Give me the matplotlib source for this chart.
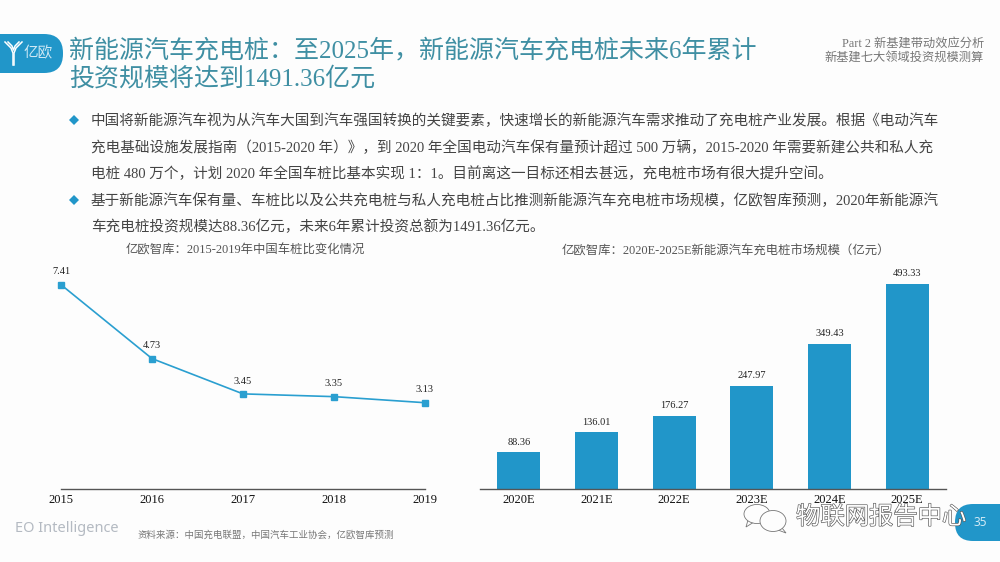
import matplotlib
matplotlib.use('Agg')
import matplotlib.pyplot as plt
import matplotlib.patheffects as pe
from matplotlib.patches import FancyBboxPatch, Ellipse, Polygon

# data
years = ['2015', '2016', '2017', '2018', '2019']
ratio = [7.41, 4.73, 3.45, 3.35, 3.13]
ratio_labels = ['7.41', '4.73', '3.45', '3.35', '3.13']

bar_years = ['2020E', '2021E', '2022E', '2023E', '2024E', '2025E']
market = [88.36, 136.01, 176.27, 247.97, 349.43, 493.33]
market_labels = ['88.36', '136.01', '176.27', '247.97', '349.43', '493.33']

title_lines = ['新能源汽车充电桩：至2025年，新能源汽车充电桩未来6年累计',
               '投资规模将达到1491.36亿元']
body_lines = ['中国将新能源汽车视为从汽车大国到汽车强国转换的关键要素，快速增长的新能源汽车需求推动了充电桩产业发展。根据《电动汽车',
              '充电基础设施发展指南（2015-2020 年）》，到 2020 年全国电动汽车保有量预计超过 500 万辆，2015-2020 年需要新建公共和私人充',
              '电桩 480 万个，计划 2020 年全国车桩比基本实现 1：1。目前离这一目标还相去甚远，充电桩市场有很大提升空间。',
              '基于新能源汽车保有量、车桩比以及公共充电桩与私人充电桩占比推测新能源汽车充电桩市场规模，亿欧智库预测，2020年新能源汽',
              '车充电桩投资规模达88.36亿元，未来6年累计投资总额为1491.36亿元。']

FONT = ['Liberation Serif', 'Noto Sans CJK SC']
SANS = ['Noto Sans', 'Noto Sans CJK SC']
BLUE = '#2196c9'
TEAL = '#3f8fa3'

W, H = 1000, 562
fig = plt.figure(figsize=(W / 100, H / 100), dpi=100, facecolor='#fdfdfd')


def axes_px(x0, y0, x1, y1):
    # y0 is the top edge, y counted from top of the picture
    return fig.add_axes([x0 / W, 1 - y1 / H, (x1 - x0) / W, (y1 - y0) / H])


# page furniture on a full size layer
bg = fig.add_axes([0, 0, 1, 1])
bg.set_xlim(0, W)
bg.set_ylim(H, 0)
bg.axis('off')

bg.add_patch(FancyBboxPatch((-30, 34), 93, 39, boxstyle='round,pad=0,rounding_size=19',
                            fc=BLUE, ec='none'))
# little Y of the logo
bg.plot([5, 11, 13, 13], [42, 48, 53, 65], color='white', lw=1.1)
bg.plot([22, 16, 14, 14], [42, 48, 53, 65], color='white', lw=1.1)
bg.plot([8, 12, 13.5, 15, 19], [42, 46, 50, 46, 42], color='white', lw=1.1)
bg.text(38, 54, '亿欧', color='#cfe9f5', fontsize=10.5, family=SANS, ha='center', va='center')

for i, line in enumerate(title_lines):
    bg.text(69, 50 + 29 * i, line, color=TEAL, fontsize=18, family=FONT, ha='left', va='center')

bg.text(984, 44, 'Part 2 新基建带动效应分析', color='#777777', fontsize=8.8, family=FONT,
        ha='right', va='center')
bg.text(984, 59, '新基建七大领域投资规模测算', color='#777777', fontsize=8.8, family=FONT,
        ha='right', va='center')

body_y = [121, 148, 174, 201, 227]
for y, line in zip(body_y, body_lines):
    bg.text(91, y, line, color='#444444', fontsize=10.5, family=FONT, ha='left', va='center')
for y in [120, 200]:
    bg.add_patch(Polygon([(69, y), (74, y - 5), (79, y), (74, y + 5)], fc=BLUE, ec='none'))

bg.text(126, 251, '亿欧智库：2015-2019年中国车桩比变化情况', color='#555555', fontsize=8.9,
        family=FONT, ha='left', va='center')
bg.text(562, 251, '亿欧智库：2020E-2025E新能源汽车充电桩市场规模（亿元）', color='#555555',
        fontsize=8.9, family=FONT, ha='left', va='center')

bg.text(15, 529, 'EO Intelligence', color='#b4bac2', fontsize=10.5, family=SANS, ha='left', va='center')
bg.text(137, 535, '资料来源：中国充电联盟，中国汽车工业协会，亿欧智库预测', color='#777777', fontsize=6.8,
        family=SANS, style='italic', ha='left', va='center')

bg.add_patch(FancyBboxPatch((955, 504), 90, 37, boxstyle='round,pad=0,rounding_size=18',
                            fc=BLUE, ec='none'))
bg.text(980, 522, '35', color='#cfe9f5', fontsize=8.5, family=SANS, ha='center', va='center')

# line chart
ax1 = axes_px(61, 254, 425, 489)
ax1.plot(years, ratio, color='#2a9fd0', lw=1.2, marker='s', ms=5, clip_on=False)
ax1.set_xlim(0, 4)
ax1.set_ylim(0, 235 / 27.57)

# bar chart
ax2 = axes_px(480, 254, 946, 489)
ax2.bar(bar_years, market, width=0.55, color=BLUE)
ax2.set_xlim(-0.5, 5.5)
ax2.set_ylim(0, 235 / 0.4155)

for ax in (ax1, ax2):
    ax.patch.set_alpha(0)
    for side in ['top', 'left', 'right']:
        ax.spines[side].set_visible(False)
    ax.spines['bottom'].set_color('#555555')
    ax.spines['bottom'].set_linewidth(1)
    ax.set_yticks([])
    ax.tick_params(axis='x', length=0, pad=3.5, labelsize=9, labelcolor='#111111')
    for t in ax.get_xticklabels():
        t.set_family(FONT)

for i, lab in enumerate(ratio_labels):
    ax1.annotate(lab, (i, ratio[i]), xytext=(0, 6), textcoords='offset points', ha='center',
                 va='bottom', fontsize=7.5, family=FONT, color='#222222', annotation_clip=False)
for i, lab in enumerate(market_labels):
    ax2.annotate(lab, (i, market[i]), xytext=(0, 4), textcoords='offset points', ha='center',
                 va='bottom', fontsize=7.5, family=FONT, color='#222222', annotation_clip=False)

# watermark on top
top = fig.add_axes([0, 0, 1, 1])
top.set_xlim(0, W)
top.set_ylim(H, 0)
top.axis('off')
top.add_patch(Polygon([(748, 520), (746, 527), (754, 522)], fc='#fdfdfd', ec='#777777', lw=0.6))
top.add_patch(Ellipse((757, 514), 26, 19, fc='#fdfdfd', ec='#777777', lw=0.6))
top.add_patch(Polygon([(782, 528), (786, 533), (778, 530)], fc='#fdfdfd', ec='#777777', lw=0.6))
top.add_patch(Ellipse((773, 521), 26, 21, fc='#fdfdfd', ec='#777777', lw=0.6))
top.text(881, 518, '物联网报告中心', color='white', fontsize=17.5, family=SANS, ha='center', va='center',
         path_effects=[pe.withStroke(linewidth=0.9, foreground='#555555')])

fig.savefig('out.png', dpi=100, facecolor=fig.get_facecolor())
